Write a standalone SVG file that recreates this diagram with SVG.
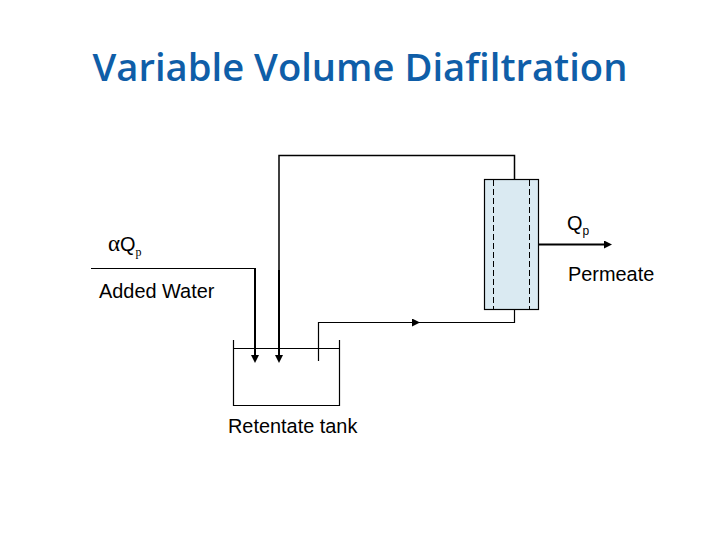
<svg xmlns="http://www.w3.org/2000/svg" width="720" height="540" viewBox="0 0 720 540">
<style>
.l{fill:none;stroke:#000;stroke-width:1.2}
.h{fill:none;stroke:#000;stroke-width:2}
.t{font-family:"Liberation Sans",Arial,sans-serif;font-size:19.900px;fill:#000}
.s{font-family:"Liberation Serif",serif;fill:#000}
</style>
<defs>
<marker id="a" markerUnits="userSpaceOnUse" markerWidth="9" markerHeight="9" refX="0" refY="4" orient="auto"><path d="M0 0L8 4L0 8Z" fill="#000"/></marker>
</defs>
<rect width="720" height="540" fill="#fff"/>
<text x="360" y="81" text-anchor="middle" style="font-family:'Open Sans','Noto Sans',sans-serif;font-size:38.200px;font-weight:600;fill:#0f5ea8">Variable Volume Diafiltration</text>
<g id="connectors">
<path class="l" d="M279 270V155.500H514.500V179" style="stroke-width:1.500"/>
<path class="h" d="M279 270V355" marker-end="url(#a)"/>
<path class="l" d="M91 268.500H255"/>
<path class="h" d="M255 268V355" marker-end="url(#a)"/>
<path class="l" d="M318.500 361V322.500H514.500V310"/>
<path class="l" d="M411 322.500H412" marker-end="url(#a)"/>
<path class="h" d="M539 244.500H604" marker-end="url(#a)"/>
</g>
<g id="filter">
<rect x="484.500" y="179.500" width="54" height="130" fill="#daeaf2" stroke="#000" stroke-width="1.200"/>
<path d="M493.500 180V309M529.500 180V309" fill="none" stroke="#000" stroke-width="1" stroke-dasharray="6 3"/>
</g>
<g id="tank">
<path class="l" d="M233.500 340V405.500H339.500V340M233 348.500H340"/>
</g>
<g id="labels">
<text class="t" x="567" y="230">Q<tspan font-size="12" dy="5" fill="#000">p</tspan></text>
<text class="t" x="568" y="281">Permeate</text>
<text class="s" x="108" y="251" font-size="23">α<tspan class="t">Q</tspan><tspan font-size="12" dy="5" fill="#000">p</tspan></text>
<text class="t" x="99" y="298">Added Water</text>
<text class="t" x="228" y="433">Retentate tank</text>
</g>
</svg>
